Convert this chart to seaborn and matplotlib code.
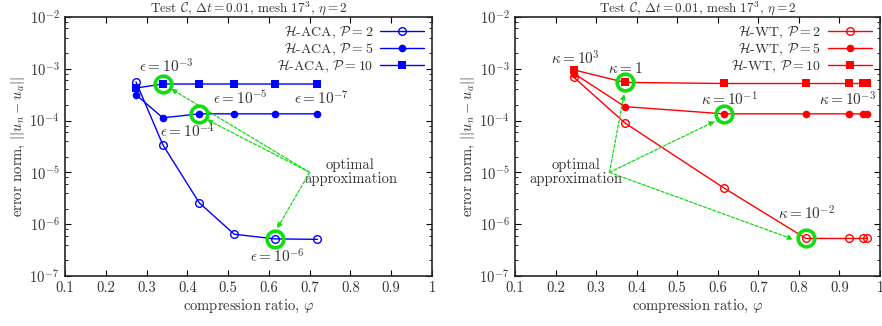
import numpy as np
import pandas as pd
import matplotlib
matplotlib.use("Agg")
import matplotlib.pyplot as plt
import matplotlib.ticker as mticker
import seaborn as sns

# ---- data ----
aca_x = [0.274, 0.340, 0.429, 0.515, 0.615, 0.719]
aca_p2 = [5.6e-4, 3.4e-5, 2.6e-6, 6.4e-7, 5.2e-7, 5.1e-7]
aca_p5 = [3.16e-4, 1.13e-4, 1.35e-4, 1.35e-4, 1.35e-4, 1.35e-4]
aca_p10 = [4.26e-4, 5.08e-4, 5.08e-4, 5.08e-4, 5.08e-4, 5.08e-4]

wt_x = [0.2455, 0.371, 0.615, 0.8176, 0.9244, 0.959, 0.967]
wt_p2 = [6.8e-4, 9.0e-5, 5.0e-6, 5.3e-7, 5.3e-7, 5.3e-7, 5.3e-7]
wt_p5 = [8.1e-4, 1.86e-4, 1.35e-4, 1.35e-4, 1.35e-4, 1.35e-4, 1.35e-4]
wt_p10 = [9.5e-4, 5.46e-4, 5.2e-4, 5.2e-4, 5.2e-4, 5.2e-4, 5.2e-4]

# optimal points (index into series)
aca_opt = [(aca_x[1], aca_p10[1]), (aca_x[2], aca_p5[2]), (aca_x[4], aca_p2[4])]
wt_opt = [(wt_x[1], wt_p10[1]), (wt_x[2], wt_p5[2]), (wt_x[3], wt_p2[3])]

aca_arrow_from = (0.70, 1.0e-5)
aca_arrow_to = [(0.36, 4.1e-4), (0.4475, 1.05e-4), (0.62, 8.3e-7)]
wt_arrow_from = (0.333, 1.0e-5)
wt_arrow_to = [(0.369, 3.26e-4), (0.593, 9.7e-5), (0.786, 5.1e-7)]

aca_notes = [(r"$\epsilon = 10^{-3}$", 0.348, 1.1e-3),
             (r"$\epsilon = 10^{-5}$", 0.529, 2.65e-4),
             (r"$\epsilon = 10^{-7}$", 0.730, 2.65e-4),
             (r"$\epsilon = 10^{-4}$", 0.399, 6.2e-5),
             (r"$\epsilon = 10^{-6}$", 0.620, 2.4e-7)]
wt_notes = [(r"$\kappa = 10^{3}$", 0.250, 1.55e-3),
            (r"$\kappa = 1$", 0.371, 1.02e-3),
            (r"$\kappa = 10^{-1}$", 0.630, 2.55e-4),
            (r"$\kappa = 10^{-3}$", 0.921, 2.55e-4),
            (r"$\kappa = 10^{-2}$", 0.819, 1.6e-6)]

sns.set_style("ticks")
plt.rcParams['font.family'] = ['serif']
plt.rcParams['font.serif'] = ['cmr10', 'DejaVu Serif']
plt.rcParams['mathtext.fontset'] = 'cm'
plt.rcParams['axes.formatter.use_mathtext'] = True

GREEN = '#11dd11'
TXT = '#333333'
FS = 10.5
title = r"Test $\mathcal{C}$, $\Delta t = 0.01$, mesh $17^3$, $\eta = 2$"


def draw_panel(ax, x, series, color, opt, afrom, ato, notes, note_xy):
    markers = [dict(marker='o', mfc='none', ms=5.5, mew=1.0),
               dict(marker='o', mfc=color, ms=5.5, mew=0),
               dict(marker='s', mfc=color, ms=6, mew=0)]
    for (label, y), mk in zip(series, markers):
        df = pd.DataFrame({'x': x, 'y': y})
        sns.lineplot(data=df, x='x', y='y', ax=ax, color=color, lw=1.0,
                     sort=False, estimator=None, label=label, mec=color, **mk)
    for px, py in opt:
        ax.plot(px, py, 'o', ms=12, mfc='none', mec=GREEN, mew=2.6, zorder=5)
    for tx, ty in ato:
        ax.annotate("", xy=(tx, ty), xytext=afrom,
                    arrowprops=dict(arrowstyle='-|>', color=GREEN, lw=0.9,
                                    ls=(0, (2.5, 1.5)), mutation_scale=8,
                                    shrinkA=0, shrinkB=0))
    for txt, tx, ty in notes:
        ax.text(tx, ty, txt, ha='center', va='center', fontsize=11, color=TXT)
    ax.text(note_xy[0], note_xy[1], "optimal\napproximation", ha='center',
            va='center', fontsize=FS, color=TXT, linespacing=1.0)

    ax.set_yscale('log')
    ax.set_xlim(0.1, 1.0)
    ax.set_ylim(1e-7, 1e-2)
    ax.set_xticks(np.arange(0.1, 1.01, 0.1))
    ax.set_xticklabels(['0.1', '0.2', '0.3', '0.4', '0.5', '0.6', '0.7', '0.8', '0.9', '1'])
    ax.yaxis.set_major_locator(mticker.LogLocator(base=10, numticks=10))
    ax.yaxis.set_minor_locator(mticker.LogLocator(base=10, subs=(2, 4, 6, 8), numticks=10))
    ax.yaxis.set_minor_formatter(mticker.NullFormatter())
    ax.tick_params(which='both', direction='in', top=True, right=True,
                   labelsize=FS, colors='black', labelcolor=TXT)
    ax.tick_params(which='major', length=4, width=0.8, pad=4)
    ax.tick_params(which='minor', length=2, width=0.6)
    for s in ax.spines.values():
        s.set_linewidth(1.2)
    ax.set_title(title, fontsize=9.5, pad=1, color=TXT)
    ax.set_xlabel(r"compression ratio, $\varphi$", fontsize=FS, labelpad=2, color=TXT)
    ax.set_ylabel(r"error norm, $||u_n - u_a||$", fontsize=FS, labelpad=2, color=TXT)
    leg = ax.legend(loc='upper right', frameon=False, markerfirst=False, fontsize=10,
                    handlelength=3.2, labelspacing=0.05, borderaxespad=0.15,
                    handletextpad=0.5)
    for t in leg.get_texts():
        t.set_color(TXT)


fig = plt.figure(figsize=(8.82, 3.26), dpi=100)
ax1 = fig.add_axes([0.0737, 0.1534, 0.4161, 0.7945])
ax2 = fig.add_axes([0.5839, 0.1534, 0.4138, 0.7945])

draw_panel(ax1, aca_x,
           [(r"$\mathcal{H}$-ACA, $\mathcal{P} = 2$", aca_p2),
            (r"$\mathcal{H}$-ACA, $\mathcal{P} = 5$", aca_p5),
            (r"$\mathcal{H}$-ACA, $\mathcal{P} = 10$", aca_p10)],
           '#0000ff', aca_opt, aca_arrow_from, aca_arrow_to, aca_notes, (0.80, 1.0e-5))
draw_panel(ax2, wt_x,
           [(r"$\mathcal{H}$-WT, $\mathcal{P} = 2$", wt_p2),
            (r"$\mathcal{H}$-WT, $\mathcal{P} = 5$", wt_p5),
            (r"$\mathcal{H}$-WT, $\mathcal{P} = 10$", wt_p10)],
           '#ff0000', wt_opt, wt_arrow_from, wt_arrow_to, wt_notes, (0.25, 1.0e-5))

fig.savefig("out.png", dpi=100)
